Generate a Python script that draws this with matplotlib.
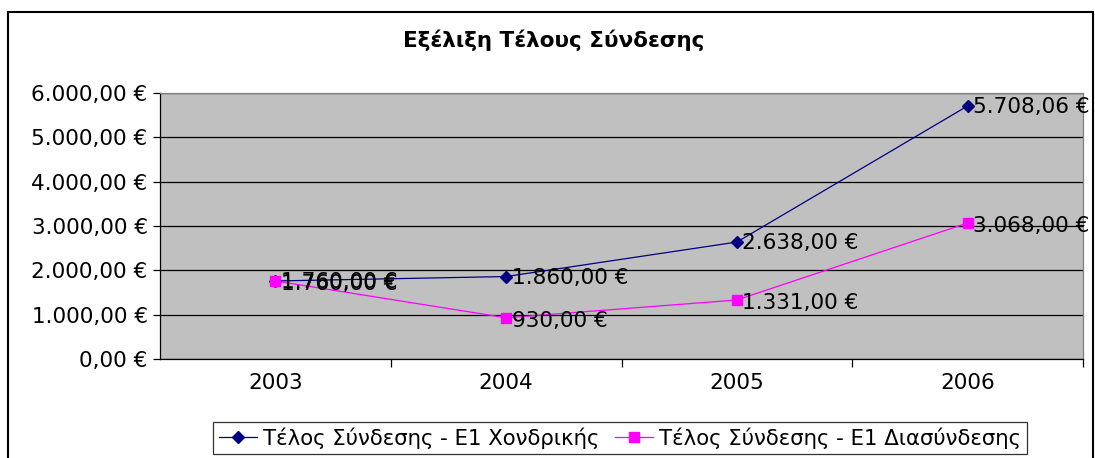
import matplotlib
matplotlib.use("Agg")
import matplotlib.pyplot as plt
from matplotlib.patches import Rectangle
from matplotlib.ticker import FuncFormatter

years = ['2003', '2004', '2005', '2006']
wholesale = [1760.00, 1860.00, 2638.00, 5708.06]
interconn = [1760.00, 930.00, 1331.00, 3068.00]
title = 'Εξέλιξη Τέλους Σύνδεσης'
name1 = 'Τέλος Σύνδεσης - Ε1 Χονδρικής'
name2 = 'Τέλος Σύνδεσης - Ε1 Διασύνδεσης'


def euro(v, pos=None):
    s = '{:,.2f}'.format(v)
    s = s.replace(',', 'X').replace('.', ',').replace('X', '.')
    return s + ' €'


plt.rcParams['font.family'] = ['DejaVu Sans']

fig = plt.figure(figsize=(10.95, 4.58), dpi=100)
ax = fig.add_axes([160/1095, 1 - 359/458, (1083 - 160)/1095, (359 - 93)/458])
ax.set_facecolor('#C0C0C0')

x = list(range(len(years)))
ax.plot(x, wholesale, color='#000080', marker='D', markersize=6, linewidth=0.9,
        label=name1, zorder=3)
ax.plot(x, interconn, color='#FF00FF', marker='s', markersize=7, linewidth=0.9,
        label=name2, zorder=3)

# data labels, to the right of each point (2003 labels overlap as in the original)
for xi, v in zip(x, wholesale):
    ax.annotate(euro(v), (xi, v), xytext=(4, -1), textcoords='offset points',
                va='center', ha='left', fontsize=15.6, clip_on=False, zorder=4)
for xi, v in zip(x, interconn):
    ax.annotate(euro(v), (xi, v), xytext=(4, -2), textcoords='offset points',
                va='center', ha='left', fontsize=15.6, clip_on=False, zorder=4)

ax.set_xlim(-0.5, 3.5)
ax.set_ylim(0, 6000)
ax.set_yticks(range(0, 6001, 1000))
ax.yaxis.set_major_formatter(FuncFormatter(euro))
ax.grid(axis='y', color='black', linewidth=0.9)
ax.set_axisbelow(True)

ax.set_xticks(x)
ax.set_xticklabels(years)
ax.set_xticks([0.5, 1.5, 2.5, 3.5], minor=True)
ax.tick_params(axis='x', which='major', length=0, pad=10, labelsize=15.5)
ax.tick_params(axis='x', which='minor', length=6, direction='out', width=0.9)
ax.tick_params(axis='y', length=5, width=0.9, labelsize=15.5, pad=4)

for s in ['top', 'right']:
    ax.spines[s].set_color('#808080')
    ax.spines[s].set_linewidth(0.9)
for s in ['left', 'bottom']:
    ax.spines[s].set_color('black')
    ax.spines[s].set_linewidth(0.9)

fig.text(554/1095, 1 - 40/458, title, ha='center', va='center',
         fontsize=15.5, fontweight='bold')

leg = fig.legend(loc='center', bbox_to_anchor=(620/1095, 1 - 438/458),
                 ncol=2, frameon=True, fancybox=False,
                 handlelength=1.8, handletextpad=0.3, columnspacing=0.7,
                 borderpad=0.25, borderaxespad=0, prop={'family': 'DejaVu Sans', 'size': 15.3})
leg.get_frame().set_edgecolor('black')
leg.get_frame().set_linewidth(0.9)

fig.patches.append(Rectangle((8/1095, -0.05), 1085/1095, 1 - 12/458 + 0.05,
                             transform=fig.transFigure, fill=False,
                             edgecolor='black', linewidth=1.5))

fig.savefig('out.png', dpi=100)
